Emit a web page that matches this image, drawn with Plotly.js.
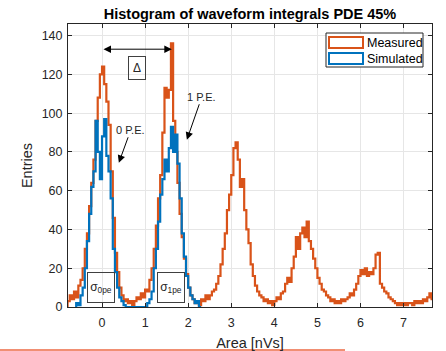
<!DOCTYPE html>
<html>
<head>
<meta charset="utf-8">
<script src="https://cdn.plot.ly/plotly-3.0.1.min.js"></script>
<style>html,body{margin:0;padding:0;background:#fff;}#chart{width:446px;height:351px;}</style>
</head>
<body>
<div id="chart"></div>
<script>
// Histogram bins
var measuredBinStart = -0.8;
var simulatedBinStart = -0.6;
var binWidth = 0.05;

// Measured counts (bins of 0.05 nVs starting at -0.8)
var measuredCounts = [
  3, 6, 4, 8, 5, 11, 14, 20, 30, 38, 52, 64, 76, 96, 108, 120,
  124, 115, 106, 94, 70, 46, 28, 18, 10, 6, 3, 4, 2, 3, 1, 3,
  5, 4, 7, 5, 9, 8, 14, 20, 30, 42, 56, 68, 90, 113, 108, 112,
  136, 96, 80, 64, 48, 36, 25, 17, 10, 6, 4, 2, 3, 1, 4, 3,
  6, 4, 6, 8, 9, 12, 16, 22, 30, 38, 50, 58, 68, 82, 85, 76,
  62, 66, 50, 40, 33, 22, 16, 11, 8, 6, 5, 3, 4, 2, 3, 1,
  3, 5, 4, 7, 8, 12, 15, 13, 20, 26, 36, 30, 38, 41, 36, 44,
  34, 30, 25, 20, 15, 12, 9, 8, 6, 5, 3, 4, 2, 3, 2, 4,
  3, 4, 5, 7, 6, 9, 12, 16, 19, 17, 20, 16, 18, 17, 20, 27,
  28, 12, 10, 8, 7, 5, 4, 3, 2, 1, 2, 1, 2, 1, 2, 2,
  1, 3, 2, 3, 2, 4, 3, 5, 7, 4, 3
];

// Simulated counts (bins of 0.05 nVs starting at -0.6)
var simulatedCounts = [
  2, 1, 6, 10, 20, 34, 48, 62, 70, 96, 80, 66, 88, 97, 78, 70,
  56, 30, 18, 10, 5, 3, 1, 0, 0, 0, 0, 0, 0, 0, 0, 0,
  0, 2, 4, 8, 20, 30, 44, 58, 66, 76, 70, 82, 93, 80, 89, 74,
  56, 38, 26, 16, 10, 6, 4, 2, 3, 0
];

var xTicks = [0, 1, 2, 3, 4, 5, 6, 7];
var yTicks = [0, 20, 40, 60, 80, 100, 120, 140];
var seriesNames = ['Measured', 'Simulated'];

function stairs(start, width, counts) {
  var xs = [start], ys = [0];
  for (var i = 0; i < counts.length; i++) {
    xs.push(start + i * width);
    ys.push(counts[i]);
  }
  var end = start + counts.length * width;
  xs.push(end); ys.push(counts[counts.length - 1]);
  xs.push(end); ys.push(0);
  return {x: xs, y: ys};
}

var orange = '#D95319';
var blue = '#0072BD';
var font = 'Liberation Sans, Arial, Helvetica, sans-serif';

var m = stairs(measuredBinStart, binWidth, measuredCounts);
var s = stairs(simulatedBinStart, binWidth, simulatedCounts);

var traces = [
  {x: m.x, y: m.y, type: 'scatter', mode: 'lines', name: seriesNames[0],
   line: {color: orange, width: 2.2, shape: 'hv'}, showlegend: false, hoverinfo: 'skip'},
  {x: s.x, y: s.y, type: 'scatter', mode: 'lines', name: seriesNames[1],
   line: {color: blue, width: 2.2, shape: 'hv'}, showlegend: false, hoverinfo: 'skip'}
];

function px2x(p) { return (p - 68) / 364; }
function py2y(p) { return (307 - p) / 283; }

var axisCommon = {
  showgrid: true, gridcolor: '#e6e6e6', gridwidth: 1,
  showline: true, linecolor: '#262626', linewidth: 1, mirror: 'ticks',
  ticks: 'inside', ticklen: 4, tickcolor: '#262626', tickwidth: 1,
  zeroline: false,
  tickfont: {family: font, size: 12.5, color: '#262626'}
};

var layout = {
  width: 446, height: 351,
  margin: {l: 68, r: 14, t: 24, b: 44},
  paper_bgcolor: '#ffffff', plot_bgcolor: '#ffffff',
  font: {family: font, color: '#262626'},
  title: {text: '<b>Histogram of waveform integrals PDE 45%</b>',
          font: {family: font, size: 14.5, color: '#000000'},
          x: 0.5, xref: 'paper', y: 1 - 14 / 351, yref: 'container', yanchor: 'middle'},
  showlegend: false,
  xaxis: Object.assign({}, axisCommon, {
    range: [-0.79, 7.66], tickvals: xTicks, ticktext: xTicks.map(String),
    ticklabelstandoff: 4,
    title: {text: 'Area [nVs]', font: {family: font, size: 14.5, color: '#262626'}, standoff: 8}
  }),
  yaxis: Object.assign({}, axisCommon, {
    range: [0, 146], tickvals: yTicks, ticktext: yTicks.map(String),
    ticklabelstandoff: 2,
    title: {text: 'Entries', font: {family: font, size: 14.5, color: '#262626'}, standoff: 5}
  }),
  shapes: [
    // legend box
    {type: 'rect', xref: 'paper', yref: 'paper', x0: px2x(326), x1: px2x(423), y0: py2y(67), y1: py2y(33),
     line: {color: '#262626', width: 1}, fillcolor: '#ffffff', layer: 'above'},
    {type: 'rect', xref: 'paper', yref: 'paper', x0: px2x(329), x1: px2x(363), y0: py2y(48), y1: py2y(37),
     line: {color: orange, width: 2}, fillcolor: 'rgba(0,0,0,0)', layer: 'above'},
    {type: 'rect', xref: 'paper', yref: 'paper', x0: px2x(329), x1: px2x(363), y0: py2y(64), y1: py2y(53),
     line: {color: blue, width: 2}, fillcolor: 'rgba(0,0,0,0)', layer: 'above'},
    // stray line under the figure
    {type: 'line', xref: 'paper', yref: 'paper', x0: px2x(0), x1: px2x(345), y0: py2y(350), y1: py2y(350),
     line: {color: '#EC6A45', width: 1.5}}
  ],
  annotations: [
    {xref: 'paper', yref: 'paper', x: px2x(365), y: py2y(43), xanchor: 'left', yanchor: 'middle',
     text: seriesNames[0], showarrow: false, font: {family: font, size: 12.5, color: '#000'}},
    {xref: 'paper', yref: 'paper', x: px2x(365), y: py2y(59), xanchor: 'left', yanchor: 'middle',
     text: seriesNames[1], showarrow: false, font: {family: font, size: 12.5, color: '#000'}},
    // double arrow
    {x: 1.62, y: 133, ax: 0, ay: 133, xref: 'x', yref: 'y', axref: 'x', ayref: 'y', text: '',
     showarrow: true, arrowside: 'end+start', arrowhead: 2, arrowsize: 1.5, arrowwidth: 1, arrowcolor: '#000'},
    {x: 0.81, y: 123.5, xref: 'x', yref: 'y', text: 'Δ', showarrow: false,
     bordercolor: '#404040', borderwidth: 1, borderpad: 4, font: {family: font, size: 12, color: '#262626'}},
    {x: 0.39, y: 74.4, xref: 'x', yref: 'y', ax: 12, ay: -33, text: '0 P.E.', showarrow: true,
     arrowhead: 2, arrowsize: 1.5, arrowwidth: 1, arrowcolor: '#000', font: {family: font, size: 11, color: '#262626'}},
    {x: 1.97, y: 86.3, xref: 'x', yref: 'y', ax: 15, ay: -43, text: '1 P.E.', showarrow: true,
     arrowhead: 2, arrowsize: 1.5, arrowwidth: 1, arrowcolor: '#000', font: {family: font, size: 11, color: '#262626'}},
    {x: -0.025, y: 10.1, xref: 'x', yref: 'y', text: 'σ<sub>0pe</sub>', showarrow: false,
     width: 26, height: 29, borderpad: 0, bordercolor: '#404040', borderwidth: 1,
     font: {family: font, size: 12, color: '#262626'}},
    {x: 1.61, y: 10.1, xref: 'x', yref: 'y', text: 'σ<sub>1pe</sub>', showarrow: false,
     width: 26, height: 29, borderpad: 0, bordercolor: '#404040', borderwidth: 1,
     font: {family: font, size: 12, color: '#262626'}}
  ]
};

Plotly.newPlot('chart', traces, layout, {displayModeBar: false, staticPlot: true});
</script>
</body>
</html>
